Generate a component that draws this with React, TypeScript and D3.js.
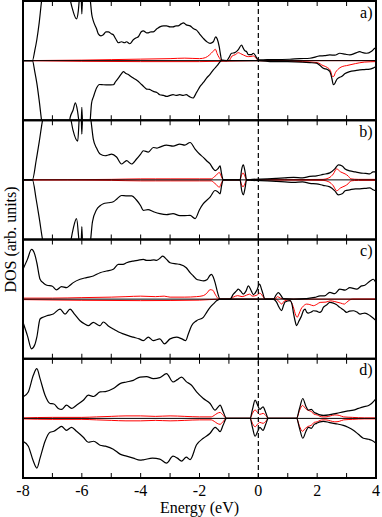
import React from "react";
import * as d3 from "d3";

type P = [number, number];

// Energy axis
const xTicks = [-8, -7, -6, -5, -4, -3, -2, -1, 0, 1, 2, 3, 4];
const xTickLabels = [-8, -6, -4, -2, 0, 2, 4];
const panelLabels = ["a)", "b)", "c)", "d)"];

// Panel a
const aUpBlack: P[] = [[-8,0],[-7.68,0],[-7.6,1.0],[-7.53,2.1],[-7.45,3.8],[-7.36,6.2],[-7.2,8],[-6.8,9],[-6.45,7],[-6.40,6.2],[-6.3,5],[-6.18,4.2],[-6.12,5],[-6.08,6.3],[-6.03,7],[-6.0,4.7],[-5.97,7],[-5.8,8],[-5.72,6.3],[-5.66,4.6],[-5.61,4.0],[-5.5,3.2],[-5.44,2.7],[-5.35,2.5],[-5.27,2.6],[-5.18,2.9],[-5.10,2.9],[-5.0,2.7],[-4.93,2.6],[-4.85,2.2],[-4.76,1.8],[-4.65,1.9],[-4.55,1.8],[-4.48,1.9],[-4.37,1.7],[-4.25,2.1],[-4.15,2.3],[-4.08,2.4],[-3.98,2.9],[-3.91,3.0],[-3.80,2.8],[-3.74,2.8],[-3.65,2.9],[-3.57,2.9],[-3.45,3.2],[-3.35,3.4],[-3.22,3.5],[-3.12,3.5],[-3.0,3.4],[-2.90,3.4],[-2.8,3.5],[-2.73,3.5],[-2.62,3.7],[-2.55,3.8],[-2.45,3.6],[-2.32,3.5],[-2.2,3.2],[-2.10,3.07],[-2.0,2.7],[-1.87,2.24],[-1.75,1.9],[-1.64,1.74],[-1.53,1.9],[-1.45,2.4],[-1.40,2.2],[-1.33,1.4],[-1.28,0.5],[-1.25,0.07],[-1.08,0],[-1.0,0.3],[-0.91,0.74],[-0.8,0.8],[-0.68,1.1],[-0.57,1.57],[-0.51,1.24],[-0.46,1.0],[-0.4,0.9],[-0.34,0.6],[-0.23,0.6],[-0.17,0.74],[-0.1,0.5],[-0.05,0.24],[0.02,0.07],[0.3,0.1],[0.6,0.1],[1.07,0.14],[1.4,0.2],[1.75,0.24],[2.09,0.47],[2.25,0.5],[2.43,0.57],[2.6,0.55],[2.77,0.74],[2.95,0.65],[3.11,0.57],[3.3,0.75],[3.45,0.9],[3.55,0.8],[3.68,0.74],[3.85,0.95],[3.96,1.24],[4,1.3]];
const aDnBlack: P[] = [[-8,0],[-7.68,0],[-7.6,-1.1],[-7.53,-2.26],[-7.45,-4],[-7.36,-6.2],[-7.2,-8],[-6.8,-9],[-6.45,-7],[-6.40,-5.77],[-6.3,-5],[-6.22,-4.26],[-6.15,-5],[-6.08,-6.5],[-6.03,-7],[-6.0,-4.7],[-5.97,-7],[-5.8,-8],[-5.72,-6.2],[-5.67,-4.3],[-5.6,-3.6],[-5.50,-2.76],[-5.4,-2.4],[-5.27,-2.43],[-5.1,-2.45],[-4.93,-2.43],[-4.85,-2.1],[-4.76,-1.76],[-4.65,-1.3],[-4.59,-1.1],[-4.50,-1.3],[-4.42,-1.4],[-4.33,-1.6],[-4.25,-1.76],[-4.12,-2.0],[-4.02,-2.26],[-3.90,-2.6],[-3.80,-2.86],[-3.70,-2.9],[-3.57,-3.1],[-3.45,-3.2],[-3.35,-3.43],[-3.22,-3.5],[-3.12,-3.6],[-3.0,-3.5],[-2.90,-3.43],[-2.80,-3.5],[-2.67,-3.43],[-2.55,-3.5],[-2.45,-3.43],[-2.35,-3.6],[-2.22,-3.76],[-2.1,-3.2],[-1.98,-2.6],[-1.87,-2.2],[-1.76,-1.76],[-1.65,-1.4],[-1.53,-0.93],[-1.40,-0.5],[-1.25,0],[0,0],[0.5,-0.1],[1.0,-0.1],[1.5,-0.15],[1.75,-0.2],[1.98,-0.26],[2.1,-0.5],[2.21,-0.76],[2.35,-0.9],[2.43,-1.1],[2.50,-1.8],[2.55,-2.43],[2.60,-2.3],[2.66,-1.93],[2.75,-1.7],[2.83,-1.6],[2.95,-1.3],[3.11,-1.1],[3.3,-1.0],[3.45,-0.93],[3.6,-0.9],[3.79,-0.86],[3.9,-0.75],[4,-0.6]];
const aUpRed: P[] = [[-8,0],[-6,0.05],[-5,0.1],[-4,0.15],[-3,0.2],[-2.5,0.25],[-2,0.2],[-1.8,0.3],[-1.65,0.6],[-1.55,0.9],[-1.46,1.14],[-1.40,0.7],[-1.33,0.3],[-1.25,0],[-1.0,0],[-0.89,0.47],[-0.78,0.6],[-0.68,0.8],[-0.6,0.7],[-0.51,0.57],[-0.42,0.45],[-0.34,0.4],[-0.25,0.42],[-0.17,0.47],[-0.08,0.25],[0,0],[4,0]];
const aDnRed: P[] = [[-8,0],[-4,-0.1],[-2,-0.1],[0,0],[1.5,-0.1],[2.0,-0.2],[2.2,-0.5],[2.35,-0.7],[2.45,-1.0],[2.52,-1.6],[2.56,-1.6],[2.62,-1.2],[2.70,-0.9],[2.85,-0.6],[3.0,-0.5],[3.3,-0.3],[3.6,-0.15],[4,-0.1]];

// Panel b
const bUpBlack: P[] = [[-8,0],[-7.68,0],[-7.55,2.0],[-7.45,3.8],[-7.3,6.5],[-7.0,8],[-6.6,8],[-6.40,6.5],[-6.3,5],[-6.14,3.9],[-6.08,6.5],[-6.03,7],[-6.0,4.6],[-5.97,7],[-5.8,8],[-5.69,6],[-5.61,4.1],[-5.5,3.2],[-5.38,2.6],[-5.21,2.43],[-5.1,2.5],[-4.99,2.6],[-4.82,2.3],[-4.65,1.6],[-4.55,1.8],[-4.48,1.93],[-4.31,1.6],[-4.14,2.1],[-4.0,2.6],[-3.91,2.93],[-3.74,2.8],[-3.57,3.26],[-3.45,3.2],[-3.35,3.3],[-3.12,3.5],[-2.90,3.4],[-2.67,3.6],[-2.5,3.5],[-2.32,3.76],[-2.15,3.1],[-2.0,2.6],[-1.87,2.26],[-1.75,1.9],[-1.64,1.6],[-1.53,1.1],[-1.47,0.93],[-1.38,1.1],[-1.30,1.4],[-1.25,0.6],[-1.19,0],[-0.62,0],[-0.57,1.0],[-0.51,1.5],[-0.45,0.8],[-0.40,0],[-0.2,0.05],[0.3,0.1],[0.6,0.15],[0.9,0.2],[1.2,0.25],[1.5,0.2],[1.75,0.35],[1.98,0.4],[2.2,0.55],[2.43,0.7],[2.6,1.1],[2.72,1.5],[2.85,1.4],[2.95,1.1],[3.11,0.9],[3.3,0.8],[3.45,0.7],[3.65,0.65],[3.79,0.6],[3.9,0.8],[4,0.8]];
const bDnBlack: P[] = [[-8,0],[-7.68,0],[-7.55,-2.0],[-7.45,-3.8],[-7.3,-6.5],[-7.0,-8],[-6.6,-8],[-6.40,-6.5],[-6.3,-5],[-6.18,-3.9],[-6.08,-6.5],[-6.03,-7],[-6.0,-4.7],[-5.97,-7],[-5.8,-8],[-5.70,-6],[-5.64,-4.24],[-5.5,-3.0],[-5.38,-2.6],[-5.27,-2.4],[-5.1,-2.3],[-4.93,-2.2],[-4.8,-1.9],[-4.65,-1.57],[-4.5,-1.6],[-4.3,-1.6],[-4.15,-2.0],[-4.0,-2.6],[-3.91,-3.07],[-3.75,-3.0],[-3.57,-3.2],[-3.35,-3.4],[-3.12,-3.5],[-2.9,-3.4],[-2.67,-3.6],[-2.5,-3.6],[-2.32,-3.57],[-2.15,-3.9],[-2.0,-3.0],[-1.87,-2.4],[-1.64,-1.73],[-1.47,-1.07],[-1.38,-1.2],[-1.30,-1.4],[-1.25,-0.6],[-1.19,0],[-0.62,0],[-0.57,-1.0],[-0.51,-1.5],[-0.45,-0.8],[-0.40,0],[-0.2,-0.05],[0.3,-0.1],[0.6,-0.15],[0.9,-0.2],[1.2,-0.25],[1.5,-0.2],[1.75,-0.35],[1.98,-0.4],[2.2,-0.55],[2.43,-0.7],[2.6,-1.1],[2.72,-1.5],[2.85,-1.4],[2.95,-1.1],[3.11,-1.0],[3.3,-0.9],[3.45,-0.9],[3.65,-0.85],[3.79,-0.8],[3.9,-1.0],[4,-1.1]];
const bUpRed: P[] = [[-8,0],[-5,0.05],[-4.5,0.08],[-4.0,0.1],[-3.5,0.1],[-3,0.1],[-2,0.1],[-1.6,0.1],[-1.5,0.3],[-1.42,0.5],[-1.33,0.75],[-1.28,0.5],[-1.22,0.1],[-1.19,0],[-0.62,0],[-0.58,0.4],[-0.52,0.7],[-0.46,0.4],[-0.40,0],[2.2,0.05],[2.4,0.2],[2.55,0.6],[2.66,1.1],[2.8,0.8],[2.95,0.6],[3.05,0.4],[3.15,0.1],[3.4,0.05],[4,0.05]];
const bDnRed: P[] = [[-8,0],[-5,-0.05],[-4.5,-0.08],[-4.0,-0.1],[-3.5,-0.1],[-3,-0.1],[-2,-0.1],[-1.6,-0.1],[-1.5,-0.3],[-1.42,-0.5],[-1.33,-0.75],[-1.28,-0.5],[-1.22,-0.1],[-1.19,0],[-0.62,0],[-0.58,-0.4],[-0.52,-0.7],[-0.46,-0.4],[-0.40,0],[2.2,-0.05],[2.4,-0.2],[2.55,-0.6],[2.66,-1.1],[2.8,-0.8],[2.95,-0.6],[3.05,-0.4],[3.15,-0.1],[3.4,-0.05],[4,-0.05]];

// Panel c
const cUpBlack: P[] = [[-8,3.0],[-7.85,4.0],[-7.71,5.0],[-7.6,4.5],[-7.53,3.66],[-7.42,2.0],[-7.3,1.6],[-7.19,1.4],[-7.0,1.3],[-6.86,0.93],[-6.69,1.26],[-6.52,1.16],[-6.4,1.4],[-6.29,1.66],[-6.06,2.0],[-5.84,2.17],[-5.61,2.33],[-5.38,2.66],[-5.16,2.83],[-4.93,3.0],[-4.76,3.5],[-4.6,3.5],[-4.48,3.66],[-4.25,3.83],[-4.1,3.9],[-3.91,4.0],[-3.8,3.9],[-3.69,3.9],[-3.55,3.95],[-3.46,3.9],[-3.35,4.1],[-3.25,4.33],[-3.12,4.0],[-3.0,3.66],[-2.8,3.55],[-2.67,3.5],[-2.45,3.16],[-2.32,2.66],[-2.21,2.33],[-2.10,2.0],[-1.98,1.9],[-1.87,1.83],[-1.75,1.95],[-1.64,2.4],[-1.59,2.5],[-1.53,2.2],[-1.47,1.66],[-1.38,0.6],[-1.30,0],[-0.96,0],[-0.85,0.5],[-0.75,0.8],[-0.68,1.0],[-0.6,0.8],[-0.51,0.5],[-0.42,0.8],[-0.34,1.33],[-0.25,0.9],[-0.17,0.45],[-0.05,0.9],[0.04,1.5],[0.12,0.9],[0.23,0],[0.51,0],[0.6,0.4],[0.68,0.66],[0.76,0.4],[0.85,0.05],[1.2,0],[1.6,0.05],[1.92,0.17],[2.10,0.33],[2.25,0.33],[2.43,0.67],[2.6,0.55],[2.77,1.0],[2.95,0.9],[3.11,1.16],[3.34,1.0],[3.51,1.33],[3.62,1.4],[3.80,1.83],[3.91,2.0],[4,1.6]];
const cDnBlack: P[] = [[-8,-2.33],[-7.85,-3.67],[-7.71,-5.0],[-7.6,-4.6],[-7.53,-3.83],[-7.42,-2.0],[-7.3,-1.8],[-7.19,-1.67],[-6.97,-1.5],[-6.74,-1.0],[-6.57,-1.5],[-6.40,-1.0],[-6.25,-1.5],[-6.06,-2.17],[-5.9,-2.5],[-5.78,-2.67],[-5.61,-2.33],[-5.45,-2.6],[-5.38,-2.67],[-5.27,-2.3],[-5.1,-2.7],[-4.93,-3.0],[-4.75,-3.3],[-4.59,-3.5],[-4.4,-3.7],[-4.25,-3.83],[-4.05,-4.0],[-3.91,-4.17],[-3.74,-3.83],[-3.57,-4.17],[-3.35,-4.0],[-3.19,-4.5],[-3.0,-4.0],[-2.78,-3.83],[-2.6,-4.0],[-2.47,-4.17],[-2.38,-3.5],[-2.27,-2.67],[-2.10,-2.17],[-1.87,-1.83],[-1.75,-1.3],[-1.64,-0.83],[-1.50,-0.4],[-1.42,-0.17],[-1.30,0],[0.5,0],[0.62,-0.3],[0.70,-0.8],[0.79,-1.17],[0.86,-0.6],[0.91,-0.3],[1.08,-0.15],[1.15,-0.6],[1.19,-1.33],[1.25,-2.2],[1.30,-2.67],[1.38,-2.2],[1.47,-1.67],[1.53,-1.17],[1.59,-1.0],[1.64,-1.3],[1.70,-1.4],[1.80,-1.3],[1.87,-1.17],[1.98,-1.2],[2.08,-1.33],[2.15,-1.2],[2.21,-0.83],[2.32,-0.6],[2.43,-0.33],[2.55,-0.4],[2.65,-0.55],[2.77,-0.83],[2.9,-1.1],[3.0,-1.33],[3.1,-1.2],[3.23,-1.17],[3.35,-1.3],[3.46,-1.5],[3.62,-1.4],[3.80,-1.67],[3.9,-1.9],[4,-2.17]];
const cUpRed: P[] = [[-8,0.1],[-7,0.1],[-6,0.15],[-5,0.2],[-4.5,0.25],[-4,0.3],[-3.5,0.25],[-3.2,0.3],[-3,0.2],[-2.5,0.2],[-2.1,0.25],[-1.87,0.35],[-1.75,0.6],[-1.64,0.95],[-1.55,0.9],[-1.47,0.5],[-1.38,0.1],[-1.30,0],[-0.96,0],[-0.85,0.2],[-0.7,0.35],[-0.55,0.25],[-0.4,0.4],[-0.3,0.5],[-0.2,0.3],[-0.05,0.4],[0.05,0.6],[0.15,0.3],[0.23,0],[0.55,0],[0.65,0.25],[0.75,0.1],[0.9,0],[4,0]];
const cDnRed: P[] = [[-8,-0.05],[-4,-0.15],[-2,-0.1],[-1.3,0],[0.6,0],[0.72,-0.3],[0.79,-0.5],[0.88,-0.2],[1.0,-0.1],[1.12,-0.3],[1.2,-0.9],[1.27,-1.6],[1.32,-1.83],[1.38,-1.5],[1.45,-1.0],[1.53,-0.7],[1.64,-0.5],[1.75,-0.55],[1.87,-0.66],[2.0,-0.5],[2.10,-0.33],[2.3,-0.3],[2.45,-0.17],[2.6,-0.25],[2.8,-0.4],[2.92,-0.5],[3.0,-0.33],[3.1,-0.1],[3.2,0],[4,0]];

// Panel d
const dUpBlack: P[] = [[-8,2.16],[-7.82,2.66],[-7.65,4.33],[-7.53,5.0],[-7.42,4.0],[-7.25,2.33],[-7.08,1.5],[-6.95,1.45],[-6.80,1.0],[-6.69,0.9],[-6.52,1.33],[-6.35,1.0],[-6.18,1.33],[-5.95,1.83],[-5.78,2.33],[-5.6,2.2],[-5.38,2.66],[-5.2,2.7],[-4.93,3.0],[-4.70,3.5],[-4.48,3.66],[-4.25,3.83],[-4.02,4.16],[-3.80,4.2],[-3.57,4.0],[-3.35,4.1],[-3.12,4.5],[-2.90,3.66],[-2.75,3.9],[-2.61,4.16],[-2.45,3.7],[-2.27,3.33],[-2.10,2.66],[-1.87,2.0],[-1.64,1.5],[-1.47,0.83],[-1.38,1.1],[-1.30,1.33],[-1.2,0.7],[-1.08,0],[-0.28,0],[-0.2,0.9],[-0.11,1.83],[-0.02,1.3],[0.05,0.9],[0.16,1.16],[0.25,0.6],[0.34,0],[1.30,0],[1.40,1.0],[1.51,2.0],[1.62,1.2],[1.70,0.83],[1.8,0.9],[1.9,0.6],[1.98,0.5],[2.1,0.35],[2.21,0.3],[2.4,0.35],[2.55,0.45],[2.66,0.5],[2.89,0.66],[3.05,0.75],[3.23,0.83],[3.4,1.0],[3.57,1.16],[3.75,1.3],[3.85,1.5],[4,2.0]];
const dDnBlack: P[] = [[-8,-2.3],[-7.82,-2.8],[-7.65,-4.3],[-7.53,-5.0],[-7.42,-4.0],[-7.25,-2.3],[-7.08,-1.4],[-6.95,-1.3],[-6.80,-1.0],[-6.69,-0.8],[-6.52,-1.2],[-6.35,-0.9],[-6.18,-1.3],[-5.95,-1.9],[-5.78,-2.4],[-5.6,-2.3],[-5.38,-2.7],[-5.2,-2.8],[-4.93,-3.1],[-4.70,-3.6],[-4.48,-3.8],[-4.25,-4.0],[-4.02,-4.2],[-3.91,-4.17],[-3.6,-4.0],[-3.35,-4.1],[-3.12,-4.5],[-2.90,-3.8],[-2.75,-4.0],[-2.61,-4.3],[-2.45,-3.9],[-2.32,-4.16],[-2.10,-2.66],[-1.87,-2.0],[-1.64,-1.5],[-1.47,-0.9],[-1.38,-1.1],[-1.30,-1.33],[-1.2,-0.7],[-1.08,0],[-0.28,0],[-0.2,-0.9],[-0.11,-1.8],[-0.02,-1.3],[0.05,-0.9],[0.16,-1.2],[0.25,-0.6],[0.34,0],[1.30,0],[1.40,-1.0],[1.51,-2.0],[1.62,-1.3],[1.70,-0.9],[1.8,-1.0],[1.9,-0.6],[1.98,-0.5],[2.1,-0.35],[2.21,-0.3],[2.4,-0.4],[2.55,-0.5],[2.66,-0.55],[2.89,-0.7],[3.05,-0.9],[3.23,-1.2],[3.4,-1.6],[3.57,-2.0],[3.75,-2.1],[3.85,-2.2],[4,-2.5]];
const dUpRed: P[] = [[-8,0.05],[-7,0.1],[-6,0.1],[-5.5,0.15],[-5,0.2],[-4.5,0.25],[-4,0.25],[-3.5,0.2],[-3,0.25],[-2.5,0.2],[-2,0.15],[-1.6,0.15],[-1.5,0.3],[-1.4,0.5],[-1.3,0.6],[-1.22,0.4],[-1.08,0],[-0.28,0],[-0.2,0.5],[-0.11,0.85],[-0.03,0.6],[0.05,0.4],[0.16,0.5],[0.25,0.3],[0.34,0],[1.30,0],[1.40,0.8],[1.5,1.3],[1.6,1.0],[1.7,0.8],[1.8,0.7],[1.9,0.4],[2.0,0.35],[2.1,0.2],[2.2,0.15],[2.3,0.15],[2.45,0.25],[2.6,0.35],[2.75,0.3],[2.9,0.15],[3.2,0.1],[3.6,0.05],[4,0.05]];
const dDnRed: P[] = [[-8,-0.05],[-7,-0.1],[-6,-0.1],[-5.5,-0.15],[-5,-0.2],[-4.5,-0.25],[-4,-0.25],[-3.5,-0.2],[-3,-0.25],[-2.5,-0.2],[-2,-0.15],[-1.6,-0.15],[-1.5,-0.3],[-1.4,-0.5],[-1.3,-0.6],[-1.22,-0.4],[-1.08,0],[-0.28,0],[-0.2,-0.5],[-0.11,-0.85],[-0.03,-0.6],[0.05,-0.4],[0.16,-0.5],[0.25,-0.3],[0.34,0],[1.30,0],[1.40,-0.8],[1.5,-1.3],[1.6,-1.0],[1.7,-0.8],[1.8,-0.7],[1.9,-0.4],[2.0,-0.35],[2.1,-0.2],[2.2,-0.15],[2.3,-0.15],[2.45,-0.25],[2.6,-0.35],[2.75,-0.3],[2.9,-0.15],[3.2,-0.1],[3.6,-0.05],[4,-0.05]];

const panels = [
  { black: [aUpBlack, aDnBlack], red: [aUpRed, aDnRed] },
  { black: [bUpBlack, bDnBlack], red: [bUpRed, bDnRed] },
  { black: [cUpBlack, cDnBlack], red: [cUpRed, cDnRed] },
  { black: [dUpBlack, dDnBlack], red: [dUpRed, dDnRed] },
];

const W = 382, H = 517;
const left = 23, right = 376, top0 = 1, panelH = 119.25;
const FONT = "Liberation Serif, DejaVu Serif, Times New Roman, serif";

export default function App() {
  const x = d3.scaleLinear().domain([-8, 4]).range([left, right]);
  const bottom = top0 + panelH * panels.length;
  return (
    <svg width={W} height={H} style={{ position: "absolute", left: 0, top: 0, background: "#fff" }}>
      <defs>
        {panels.map((_, i) => (
          <clipPath id={`clip${i}`} key={i}>
            <rect x={left} y={top0 + i * panelH} width={right - left} height={panelH} />
          </clipPath>
        ))}
      </defs>
      {panels.map((p, i) => {
        const t = top0 + i * panelH;
        const y = d3.scaleLinear().domain([-6, 6]).range([t + panelH, t]);
        const line = d3.line<P>().x(d => x(d[0])).y(d => y(d[1])).curve(d3.curveMonotoneX);
        return (
          <g key={i}>
            <g clipPath={`url(#clip${i})`}>
              {p.red.map((s, j) => (
                <path key={"r" + j} d={line(s) || ""} fill="none" stroke="#ff0000" strokeWidth={1} />
              ))}
              <line x1={left} x2={right} y1={y(0)} y2={y(0)} stroke="#000" strokeWidth={1} />
              {p.black.map((s, j) => (
                <path key={"b" + j} d={line(s) || ""} fill="none" stroke="#000" strokeWidth={1.2} />
              ))}
            </g>
            {xTicks.map(v => (
              <g key={v}>
                <line x1={x(v)} x2={x(v)} y1={t} y2={t + 5} stroke="#000" strokeWidth={1} />
                <line x1={x(v)} x2={x(v)} y1={t + panelH} y2={t + panelH - 5} stroke="#000" strokeWidth={1} />
              </g>
            ))}
            <rect x={left} y={t} width={right - left} height={panelH} fill="none" stroke="#000" strokeWidth={2} />
            <text x={372.5} y={t + 16.5} textAnchor="end" fontFamily={FONT} fontSize={16}>{panelLabels[i]}</text>
          </g>
        );
      })}
      <line x1={x(0)} x2={x(0)} y1={top0} y2={bottom} stroke="#000" strokeWidth={1.2} strokeDasharray="5,3" />
      {xTickLabels.map(v => (
        <text key={v} x={x(v)} y={496} textAnchor="middle" fontFamily={FONT} fontSize={16}>{v}</text>
      ))}
      <text x={(left + right) / 2} y={513} textAnchor="middle" fontFamily={FONT} fontSize={16}>Energy (eV)</text>
      <text transform={`translate(15.5,${(top0 + bottom) / 2}) rotate(-90)`} textAnchor="middle" fontFamily={FONT} fontSize={16}>DOS (arb. units)</text>
    </svg>
  );
}
